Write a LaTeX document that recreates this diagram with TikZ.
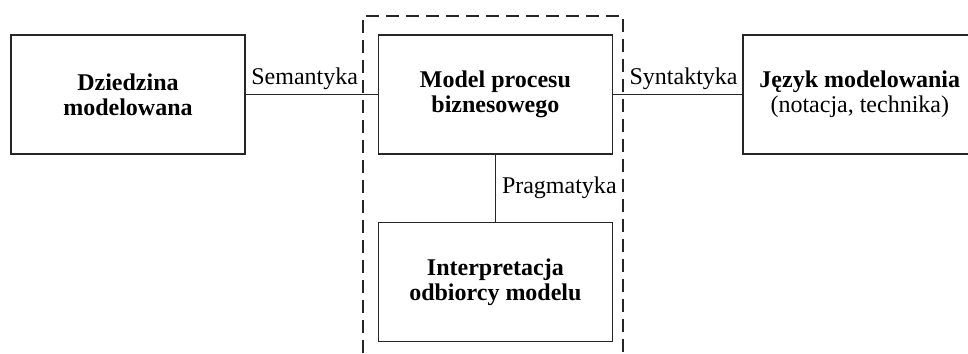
\documentclass[tikz,border=0pt]{standalone}
\usepackage{fontspec}
\setmainfont{Liberation Serif}
\usetikzlibrary{positioning}

\tikzstyle{blok} = [draw=black!85, line width=0.7pt, rectangle,
    minimum width=117pt, minimum height=59.5pt, inner sep=2pt,
    align=center, font=\fontsize{12}{12.5}\selectfont]
\tikzstyle{etykieta} = [inner sep=2pt, font=\fontsize{12}{12.5}\selectfont]
\tikzstyle{linia} = [draw=black!85, line width=0.6pt]
\tikzstyle{ramka} = [draw=black!85, line width=0.55pt, dash pattern=on 6.5pt off 3.5pt]

\begin{document}
\begin{tikzpicture}[x=0.5pt, y=-0.5pt]
    \useasboundingbox (0,0) rectangle (968,353);
    \node [blok] (dziedzina) at (128,94.5) {\textbf{Dziedzina}\\\textbf{modelowana}};
    \node [blok, right=66pt of dziedzina] (model) {\textbf{Model procesu}\\\textbf{biznesowego}};
    \node [blok, right=64.5pt of model] (jezyk) {\textbf{Język modelowania}\\(notacja, technika)};
    \node [blok, below=33.5pt of model] (interp) {\textbf{Interpretacja}\\\textbf{odbiorcy modelu}};
%------------ granica modelu ---------------------
    \coordinate (rLD) at (363,353);
    \coordinate (rLG) at (363,16);
    \coordinate (rPG) at (623,16);
    \coordinate (rPD) at (623,353);
    \draw [ramka] (rLD) -- (rLG) -- (rPG) -- (rPD);
%------------ relacje ---------------------
    \draw [linia] (dziedzina) -- node [etykieta, above, xshift=-3.5pt] {Semantyka} (model);
    \draw [linia] (model) -- node [etykieta, above, xshift=3pt] {Syntaktyka} (jezyk);
    \draw [linia] (model) -- node [etykieta, right, xshift=1pt] {Pragmatyka} (interp);
\end{tikzpicture}
\end{document}
